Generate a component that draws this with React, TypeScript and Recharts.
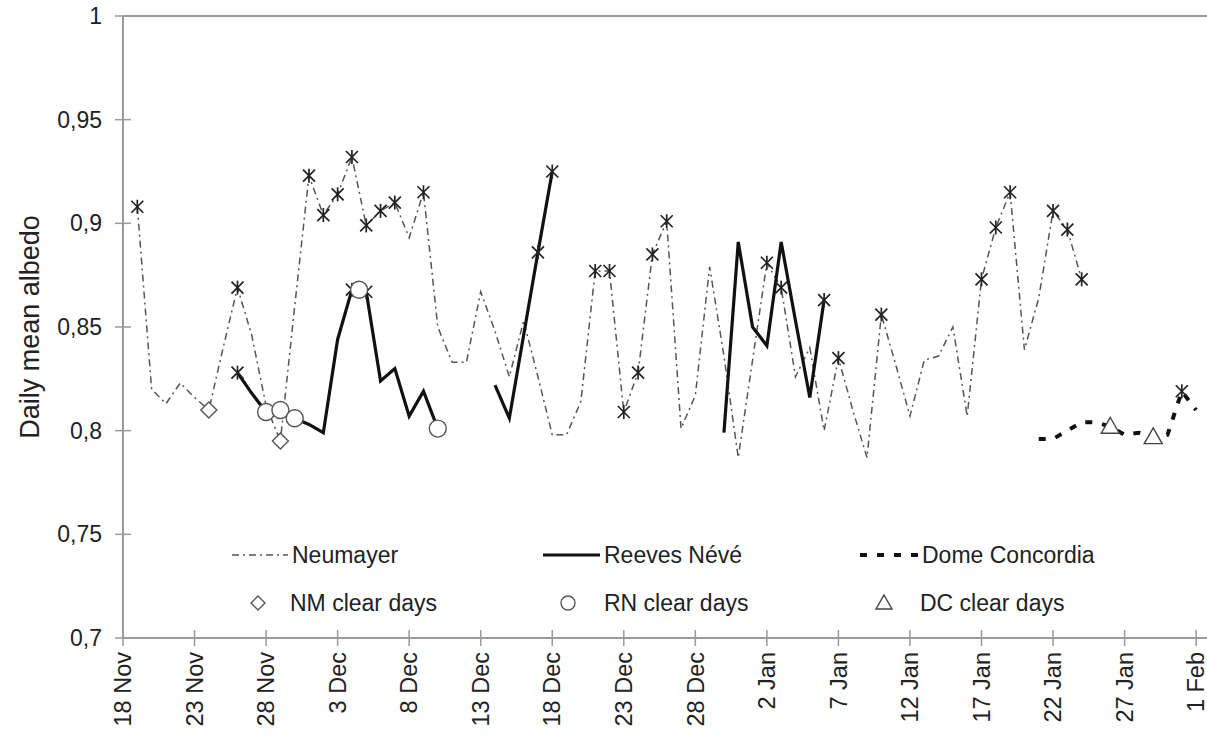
import React from 'react';
import { ComposedChart, Line, Scatter, XAxis, YAxis, ReferenceLine, Customized } from 'recharts';

// ---- data ----
const tickDays = [0, 5, 10, 15, 20, 25, 30, 35, 40, 45, 50, 55, 60, 65, 70, 75];
const tickLabels = ['18 Nov', '23 Nov', '28 Nov', '3 Dec', '8 Dec', '13 Dec', '18 Dec', '23 Dec', '28 Dec', '2 Jan', '7 Jan', '12 Jan', '17 Jan', '22 Jan', '27 Jan', '1 Feb'];
const yTicks = [0.7, 0.75, 0.8, 0.85, 0.9, 0.95, 1];
const yTickLabels = ['0,7', '0,75', '0,8', '0,85', '0,9', '0,95', '1'];

// Neumayer, day 1 (19 Nov) .. day 67
const neumayerStart = 1;
const neumayerValues = [
  0.908, 0.820, 0.813, 0.823, 0.816, 0.810, 0.840, 0.869, 0.846, 0.812,
  0.795, 0.860, 0.923, 0.904, 0.914, 0.932, 0.899, 0.906, 0.910, 0.893,
  0.915, 0.850, 0.833, 0.833, 0.867, 0.848, 0.826, 0.853, 0.826, 0.798,
  0.798, 0.814, 0.877, 0.877, 0.809, 0.828, 0.885, 0.901, 0.801, 0.817,
  0.879, 0.836, 0.787, 0.834, 0.881, 0.869, 0.826, 0.840, 0.800, 0.835,
  0.810, 0.787, 0.856, 0.832, 0.807, 0.834, 0.836, 0.850, 0.807, 0.873,
  0.898, 0.915, 0.839, 0.864, 0.906, 0.897, 0.873,
];
// Reeves Névé, day 8 .. day 49 (null = no data)
const reevesStart = 8;
const reevesValues: (number | null)[] = [
  0.828, 0.818, 0.809, 0.810, 0.806, 0.803, 0.799, 0.844, 0.868, 0.867,
  0.824, 0.830, 0.807, 0.819, 0.801, null, null, null, 0.822, 0.806,
  0.846, 0.886, 0.925, null, null, null, null, null, null, null,
  null, null, null, null, 0.799, 0.891, 0.850, 0.841, 0.891, 0.853,
  0.816, 0.863,
];
// Dome Concordia, day 64 .. day 75
const domeStart = 64;
const domeValues = [0.796, 0.796, 0.800, 0.804, 0.804, 0.802, 0.798, 0.799, 0.797, 0.798, 0.819, 0.810];

const neumayerStarDays = [1, 8, 13, 14, 15, 16, 17, 18, 19, 21, 33, 34, 35, 36, 37, 38, 45, 46, 50, 53, 60, 61, 62, 65, 66, 67];
const reevesStarDays = [8, 16, 17, 29, 30, 49];
const domeStarDays = [74];

const nmClearDays = [6, 11];
const rnClearDays = [10, 11, 12, 16.5, 22];
const rnClearValues = [0.809, 0.810, 0.806, 0.868, 0.801];
const dcClearDays = [69, 72];

// ---- build series ----
type Pt = { x: number; y: number | null };
const series = (start: number, vals: (number | null)[]): Pt[] => vals.map((v, i) => ({ x: start + i, y: v }));
const neumayerData = series(neumayerStart, neumayerValues);
const reevesData = series(reevesStart, reevesValues);
const domeData = series(domeStart, domeValues);
const pick = (data: Pt[], days: number[]) => days.map((d) => data.find((p) => p.x === d)!).filter(Boolean);
const starData = [
  ...pick(neumayerData, neumayerStarDays),
  ...pick(reevesData, reevesStarDays),
  ...pick(domeData, domeStarDays),
];
const nmClearData = pick(neumayerData, nmClearDays);
const rnClearData = rnClearDays.map((d, i) => ({ x: d, y: rnClearValues[i] }));
const dcClearData = pick(domeData, dcClearDays);

// ---- styles ----
const FONT = '"Liberation Sans", Arial, sans-serif';
const TEXT = '#222';
const AXIS = '#9a9a9a';
const NM_DASH = '7 4 2 4';
const DC_DASH = '7 10';

const XTick = (props: any) => {
  const { x, y, payload } = props;
  const i = tickDays.indexOf(payload.value);
  return (
    <g>
      <line x1={x} x2={x} y1={y - 22} y2={y - 6} stroke={AXIS} strokeWidth={1.5} />
      <text x={x} y={y} transform={`rotate(-90, ${x}, ${y})`} textAnchor="end" dy="0.35em" fontSize={23.5} fontFamily={FONT} fill={TEXT}>
        {i >= 0 ? tickLabels[i] : ''}
      </text>
    </g>
  );
};

const YTick = (props: any) => {
  const { x, y, payload } = props;
  const i = yTicks.findIndex((t) => Math.abs(t - payload.value) < 1e-6);
  return (
    <g>
      <line x1={x + 13} x2={x + 29} y1={y} y2={y} stroke={AXIS} strokeWidth={1.5} />
      <text x={x} y={y} textAnchor="end" dy="0.35em" fontSize={23} fontFamily={FONT} fill={TEXT}>
        {i >= 0 ? yTickLabels[i] : ''}
      </text>
    </g>
  );
};

const Star = (props: any) => {
  const { cx, cy } = props;
  if (cx == null || cy == null) return null;
  const r = 7;
  const d = 6;
  return (
    <g stroke="#222" strokeWidth={1.7}>
      <line x1={cx} x2={cx} y1={cy - r} y2={cy + r} />
      <line x1={cx - d} x2={cx + d} y1={cy - d} y2={cy + d} />
      <line x1={cx - d} x2={cx + d} y1={cy + d} y2={cy - d} />
    </g>
  );
};

const Diamond = (props: any) => {
  const { cx, cy } = props;
  const s = props.s ?? 8;
  return <path d={`M${cx},${cy - s}L${cx + s},${cy}L${cx},${cy + s}L${cx - s},${cy}Z`} fill="#fff" stroke="#555" strokeWidth={1.4} />;
};
const CircleM = (props: any) => {
  const { cx, cy } = props;
  const r = props.r ?? 8.5;
  return <circle cx={cx} cy={cy} r={r} fill="#fff" stroke="#555" strokeWidth={1.4} />;
};
const Triangle = (props: any) => {
  const { cx, cy } = props;
  const s = props.s ?? 9;
  return <path d={`M${cx},${cy - s}L${cx + s},${cy + s * 0.75}L${cx - s},${cy + s * 0.75}Z`} fill="#fff" stroke="#444" strokeWidth={1.4} />;
};

const Overlay = () => {
  const r1 = 555;
  const r2 = 603;
  const txt = (x: number, y: number, s: string) => (
    <text x={x} y={y} dy="0.35em" fontSize={23} fontFamily={FONT} fill={TEXT}>{s}</text>
  );
  return (
    <g>
      <text x={30} y={327} transform="rotate(-90, 30, 327)" textAnchor="middle" dy="0.35em" fontSize={27} fontFamily={FONT} fill={TEXT}>
        Daily mean albedo
      </text>
      <line x1={232} x2={288} y1={r1} y2={r1} stroke="#555" strokeWidth={1.5} strokeDasharray={NM_DASH} />
      {txt(292, r1, 'Neumayer')}
      <line x1={543} x2={600} y1={r1} y2={r1} stroke="#111" strokeWidth={3.2} />
      {txt(604, r1, 'Reeves Névé')}
      <line x1={860} x2={918} y1={r1} y2={r1} stroke="#111" strokeWidth={4} strokeDasharray={DC_DASH} />
      {txt(922, r1, 'Dome Concordia')}
      <Diamond cx={258} cy={r2} s={7} />
      {txt(290, r2, 'NM clear days')}
      <CircleM cx={568} cy={r2} r={7} />
      {txt(604, r2, 'RN clear days')}
      <Triangle cx={884} cy={r2} s={8} />
      {txt(920, r2, 'DC clear days')}
    </g>
  );
};

export default function App() {
  return (
    <div style={{ position: 'absolute', left: 0, top: 0, width: 1207, height: 736, overflow: 'hidden', background: '#fff' }}>
      <ComposedChart width={1215} height={736} margin={{ top: 16, right: 6, left: 0, bottom: 0 }}>
        <XAxis
          dataKey="x"
          type="number"
          domain={[0, 75.9]}
          ticks={tickDays}
          interval={0}
          height={98}
          tickSize={8}
          tickMargin={6}
          tickLine={false}
          axisLine={{ stroke: AXIS, strokeWidth: 2 }}
          tick={<XTick />}
          allowDataOverflow
        />
        <YAxis
          type="number"
          domain={[0.7, 1]}
          ticks={yTicks}
          interval={0}
          width={123}
          tickSize={8}
          tickMargin={13}
          tickLine={false}
          axisLine={{ stroke: AXIS, strokeWidth: 2 }}
          tick={<YTick />}
        />
        <ReferenceLine y={1} stroke={AXIS} strokeWidth={2} />
        <Line data={neumayerData} dataKey="y" stroke="#555" strokeWidth={1.5} strokeDasharray={NM_DASH} dot={false} activeDot={false} isAnimationActive={false} connectNulls={false} />
        <Line data={domeData} dataKey="y" stroke="#111" strokeWidth={4} strokeDasharray={DC_DASH} dot={false} activeDot={false} isAnimationActive={false} />
        <Line data={reevesData} dataKey="y" stroke="#111" strokeWidth={3.2} dot={false} activeDot={false} isAnimationActive={false} connectNulls={false} />
        <Scatter data={starData} dataKey="y" shape={<Star />} isAnimationActive={false} />
        <Scatter data={nmClearData} dataKey="y" shape={<Diamond />} isAnimationActive={false} />
        <Scatter data={rnClearData} dataKey="y" shape={<CircleM />} isAnimationActive={false} />
        <Scatter data={dcClearData} dataKey="y" shape={<Triangle />} isAnimationActive={false} />
        <Customized component={Overlay} />
      </ComposedChart>
    </div>
  );
}
